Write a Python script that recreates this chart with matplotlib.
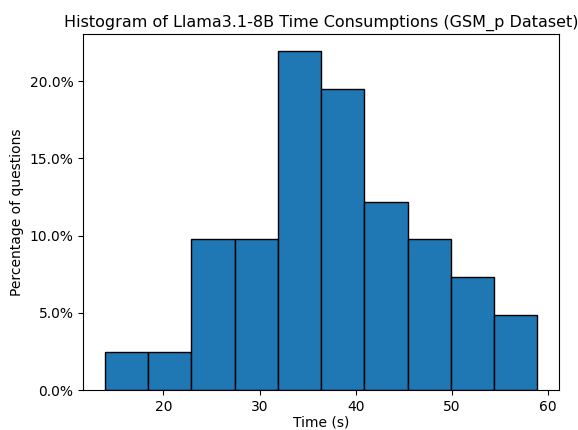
import matplotlib
matplotlib.use("Agg")
import matplotlib.pyplot as plt
import numpy as np
from matplotlib.ticker import PercentFormatter

# counts per bin (41 questions)
bin_edges = np.linspace(13.9, 58.9, 11)
bin_counts = [1, 1, 4, 4, 9, 8, 5, 4, 3, 2]
total = sum(bin_counts)

fig, ax = plt.subplots(figsize=(5.78, 4.3), dpi=100)
fig.subplots_adjust(left=0.144, right=0.967, bottom=0.093, top=0.921)

ax.hist(bin_edges[:-1], bins=bin_edges,
        weights=np.array(bin_counts) / total * 100,
        color="#1f77b4", edgecolor="black")
ax.yaxis.set_major_formatter(PercentFormatter(decimals=1))
ax.set_xlabel("Time (s)", labelpad=1)
ax.set_ylabel("Percentage of questions")
ax.set_title("Histogram of Llama3.1-8B Time Consumptions (GSM_p Dataset)", fontsize=11.5, pad=5)

fig.savefig("out.png", dpi=100)
